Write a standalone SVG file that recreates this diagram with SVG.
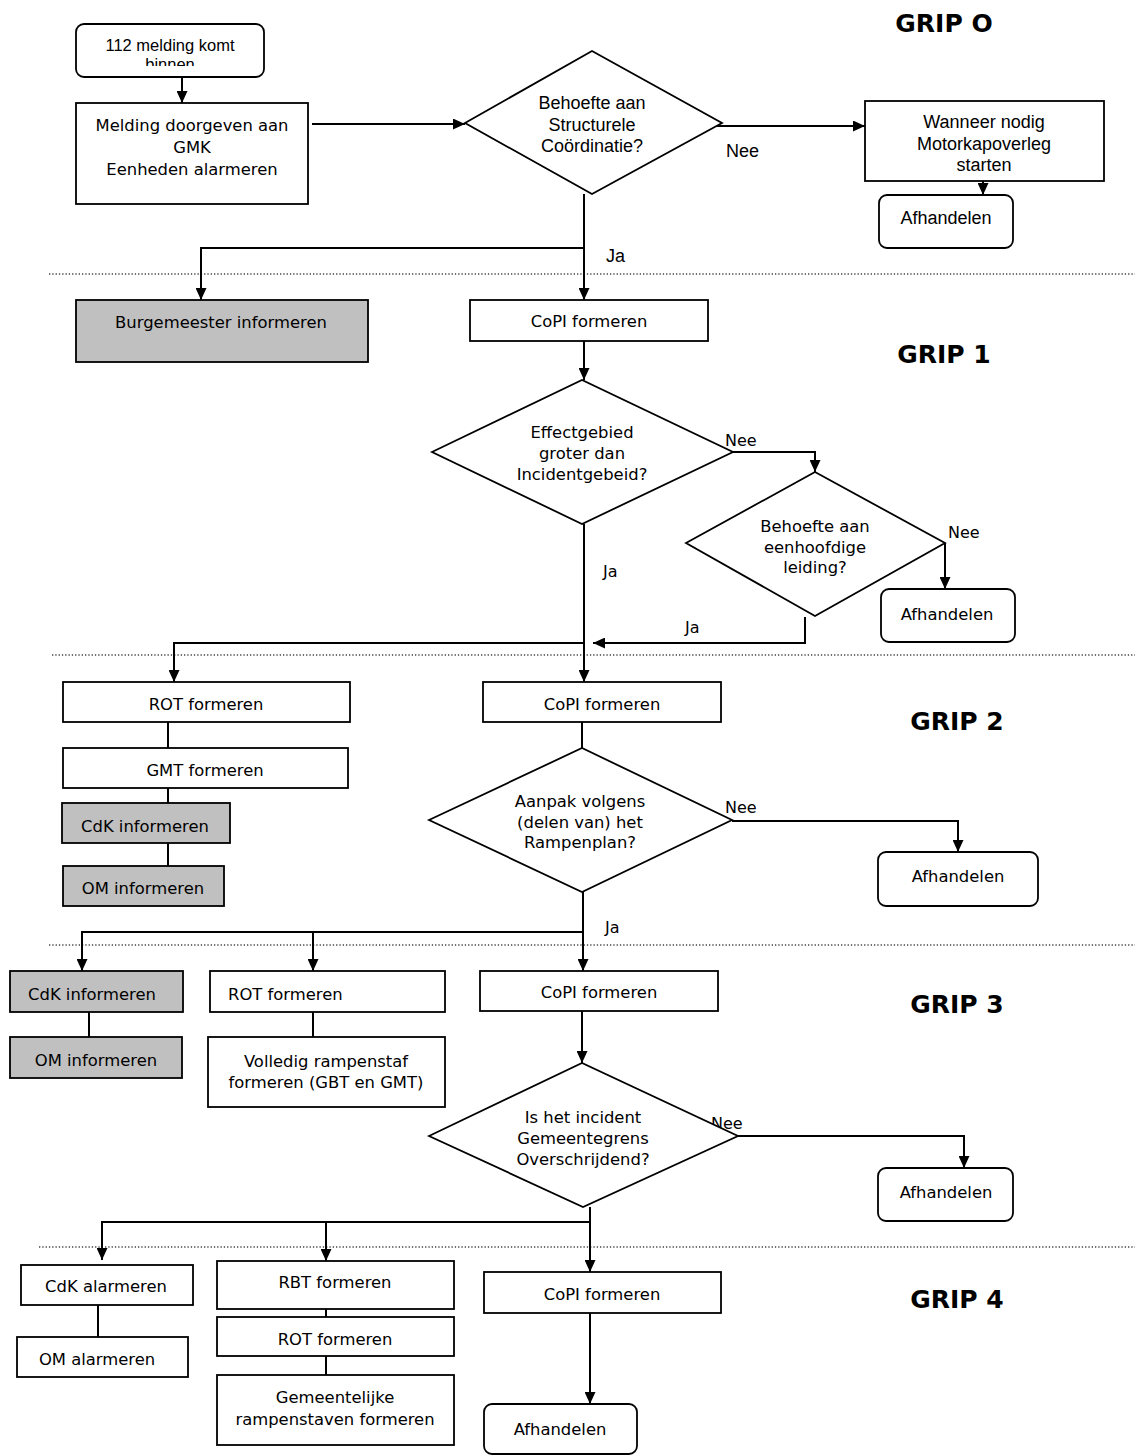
<svg xmlns="http://www.w3.org/2000/svg" width="1135" height="1455" viewBox="0 0 1135 1455">
<style>
.b{fill:#fff;stroke:#000;stroke-width:1.8}
.g{fill:#c0c0c0;stroke:#000;stroke-width:1.8}
.t{font-family:"DejaVu Sans",Verdana,sans-serif;font-size:16.4px;fill:#000;text-anchor:middle}
.a{font-family:"Liberation Sans",Arial,sans-serif;font-size:16.5px;fill:#000;text-anchor:middle}
.a2{font-family:"Liberation Sans",Arial,sans-serif;font-size:18px;fill:#000;text-anchor:middle}
.l{font-family:"DejaVu Sans",Verdana,sans-serif;font-size:16px;fill:#000}
.l2{font-family:"Liberation Sans",Arial,sans-serif;font-size:18px;fill:#000}
.grip{font-family:"DejaVu Sans",Verdana,sans-serif;font-size:25px;font-weight:bold;fill:#000;text-anchor:middle}
.c{fill:none;stroke:#000;stroke-width:2}
.ar{marker-end:url(#ah)}
.sep{stroke:#444;stroke-width:1.3;stroke-dasharray:1.3 2}
</style>
<defs>
<marker id="ah" markerUnits="userSpaceOnUse" markerWidth="12" markerHeight="11" refX="12" refY="5.5" orient="auto">
<path d="M0,0 L12,5.5 L0,11 z" fill="#000"/>
</marker>
<clipPath id="clip112"><rect x="76" y="24" width="188" height="42"/></clipPath>
</defs>
<rect width="1135" height="1455" fill="#fff"/>
<g id="separators">
<line class="sep" x1="49" y1="274" x2="1135" y2="274"/>
<line class="sep" x1="52" y1="655" x2="1135" y2="655"/>
<line class="sep" x1="49" y1="945" x2="1135" y2="945"/>
<line class="sep" x1="39" y1="1247" x2="1135" y2="1247"/>
</g>
<g id="grip-labels">
<text class="grip" x="944" y="32">GRIP O</text>
<text class="grip" x="944" y="363">GRIP 1</text>
<text class="grip" x="957" y="730">GRIP 2</text>
<text class="grip" x="957" y="1013">GRIP 3</text>
<text class="grip" x="957" y="1308">GRIP 4</text>
</g>
<g id="connectors">
<path class="c ar" d="M182,77 V103"/>
<path class="c ar" d="M312,124 H465"/>
<path class="c ar" d="M695,126 H865"/>
<path class="c ar" d="M983,168 V195"/>
<path class="c ar" d="M584,194 V300"/>
<path class="c ar" d="M584,248 H201 V300"/>
<path class="c ar" d="M584,341 V380"/>
<path class="c ar" d="M733,452 H815 V472"/>
<path class="c ar" d="M945,543 V589"/>
<path class="c ar" d="M805,617 V643 H593"/>
<path class="c ar" d="M584,524 V682"/>
<path class="c ar" d="M584,643 H174 V682"/>
<path class="c" d="M168,722 V748"/>
<path class="c" d="M168,788 V803"/>
<path class="c" d="M168,841 V866"/>
<path class="c" d="M582,722 V748"/>
<path class="c ar" d="M732,821 H958 V852"/>
<path class="c ar" d="M583,892 V971"/>
<path class="c ar" d="M583,932 H82 V971"/>
<path class="c ar" d="M313,932 V971"/>
<path class="c" d="M89,1012 V1037"/>
<path class="c" d="M313,1010 V1037"/>
<path class="c ar" d="M582,1011 V1063"/>
<path class="c ar" d="M738,1136 H964 V1168"/>
<path class="c ar" d="M590,1207 V1272"/>
<path class="c ar" d="M590,1222 H102 V1260"/>
<path class="c ar" d="M326,1222 V1261"/>
<path class="c" d="M98,1305 V1337"/>
<path class="c" d="M326,1309 V1317"/>
<path class="c" d="M326,1353 V1375"/>
<path class="c ar" d="M590,1313 V1404"/>
</g>
<g id="edge-labels">
<text class="l2" x="726" y="157">Nee</text>
<text class="l2" x="606" y="262">Ja</text>
<text class="l" x="725" y="446">Nee</text>
<text class="l" x="948" y="538">Nee</text>
<text class="l" x="603" y="577">Ja</text>
<text class="l" x="685" y="633">Ja</text>
<text class="l" x="725" y="813">Nee</text>
<text class="l" x="605" y="933">Ja</text>
<text class="l" x="711" y="1129">Nee</text>
</g>
<g id="n112">
<rect class="b" x="76" y="24" width="188" height="53" rx="8"/>
<g clip-path="url(#clip112)">
<text class="a" x="170" y="51">112 melding komt</text>
<text class="a" x="170" y="70">binnen</text>
</g>
</g>
<g id="nMelding">
<rect class="b" x="76" y="103" width="232" height="101"/>
<text class="t" x="192" y="131">Melding doorgeven aan</text>
<text class="t" x="192" y="153">GMK</text>
<text class="t" x="192" y="175">Eenheden alarmeren</text>
</g>
<g id="nDiamond1">
<polygon class="b" points="465,123 592,51 722,123 592,194"/>
<text class="a2" x="592" y="109">Behoefte aan</text>
<text class="a2" x="592" y="131">Structurele</text>
<text class="a2" x="592" y="152">Coördinatie?</text>
</g>
<g id="nWanneer">
<rect class="b" x="865" y="101" width="239" height="80"/>
<text class="a2" x="984" y="128">Wanneer nodig</text>
<text class="a2" x="984" y="150">Motorkapoverleg</text>
<text class="a2" x="984" y="171">starten</text>
</g>
<g id="nAfh1">
<rect class="b" x="879" y="195" width="134" height="53" rx="8"/>
<text class="a2" x="946" y="224">Afhandelen</text>
</g>
<g id="nBurg">
<rect class="g" x="76" y="300" width="292" height="62"/>
<text class="t" x="221" y="328">Burgemeester informeren</text>
</g>
<g id="nCoPI1">
<rect class="b" x="470" y="300" width="238" height="41"/>
<text class="t" x="589" y="327">CoPI formeren</text>
</g>
<g id="nDiamond2">
<polygon class="b" points="432,452 582,380 733,452 582,524"/>
<text class="t" x="582" y="438">Effectgebied</text>
<text class="t" x="582" y="459">groter dan</text>
<text class="t" x="582" y="480">Incidentgebeid?</text>
</g>
<g id="nDiamond3">
<polygon class="b" points="686,543 815,472 945,543 815,616"/>
<text class="t" x="815" y="532">Behoefte aan</text>
<text class="t" x="815" y="553">eenhoofdige</text>
<text class="t" x="815" y="573">leiding?</text>
</g>
<g id="nAfh2">
<rect class="b" x="881" y="589" width="134" height="53" rx="8"/>
<text class="t" x="947" y="620">Afhandelen</text>
</g>
<g id="nROT2">
<rect class="b" x="63" y="682" width="287" height="40"/>
<text class="t" x="206" y="710">ROT formeren</text>
</g>
<g id="nGMT2">
<rect class="b" x="63" y="748" width="285" height="40"/>
<text class="t" x="205" y="776">GMT formeren</text>
</g>
<g id="nCdK2">
<rect class="g" x="62" y="803" width="168" height="40"/>
<text class="t" x="145" y="832">CdK informeren</text>
</g>
<g id="nOM2">
<rect class="g" x="63" y="866" width="161" height="40"/>
<text class="t" x="143" y="894">OM informeren</text>
</g>
<g id="nCoPI2">
<rect class="b" x="483" y="682" width="238" height="40"/>
<text class="t" x="602" y="710">CoPI formeren</text>
</g>
<g id="nDiamond4">
<polygon class="b" points="429,820 582,748 732,820 582,892"/>
<text class="t" x="580" y="807">Aanpak volgens</text>
<text class="t" x="580" y="828">(delen van) het</text>
<text class="t" x="580" y="848">Rampenplan?</text>
</g>
<g id="nAfh3">
<rect class="b" x="878" y="852" width="160" height="54" rx="8"/>
<text class="t" x="958" y="882">Afhandelen</text>
</g>
<g id="nCdK3">
<rect class="g" x="10" y="971" width="173" height="41"/>
<text class="t" x="92" y="1000">CdK informeren</text>
</g>
<g id="nOM3">
<rect class="g" x="10" y="1037" width="172" height="41"/>
<text class="t" x="96" y="1066">OM informeren</text>
</g>
<g id="nROT3">
<rect class="b" x="210" y="971" width="235" height="41"/>
<text class="t" x="228" y="1000" style="text-anchor:start">ROT formeren</text>
</g>
<g id="nVolledig">
<rect class="b" x="208" y="1037" width="237" height="70"/>
<text class="t" x="326" y="1067">Volledig rampenstaf</text>
<text class="t" x="326" y="1088">formeren (GBT en GMT)</text>
</g>
<g id="nCoPI3">
<rect class="b" x="480" y="971" width="238" height="40"/>
<text class="t" x="599" y="998">CoPI formeren</text>
</g>
<g id="nDiamond5">
<polygon class="b" points="429,1136 582,1063 738,1136 583,1207"/>
<text class="t" x="583" y="1123">Is het incident</text>
<text class="t" x="583" y="1144">Gemeentegrens</text>
<text class="t" x="583" y="1165">Overschrijdend?</text>
</g>
<g id="nAfh4">
<rect class="b" x="878" y="1168" width="135" height="53" rx="8"/>
<text class="t" x="946" y="1198">Afhandelen</text>
</g>
<g id="nCdKal">
<rect class="b" x="21" y="1265" width="172" height="40"/>
<text class="t" x="106" y="1292">CdK alarmeren</text>
</g>
<g id="nOMal">
<rect class="b" x="17" y="1337" width="171" height="40"/>
<text class="t" x="97" y="1365">OM alarmeren</text>
</g>
<g id="nRBT">
<rect class="b" x="217" y="1261" width="237" height="48"/>
<text class="t" x="335" y="1288">RBT formeren</text>
</g>
<g id="nROT4">
<rect class="b" x="217" y="1317" width="237" height="39"/>
<text class="t" x="335" y="1345">ROT formeren</text>
</g>
<g id="nGem">
<rect class="b" x="217" y="1375" width="237" height="70"/>
<text class="t" x="335" y="1403">Gemeentelijke</text>
<text class="t" x="335" y="1425">rampenstaven formeren</text>
</g>
<g id="nCoPI4">
<rect class="b" x="484" y="1272" width="237" height="41"/>
<text class="t" x="602" y="1300">CoPI formeren</text>
</g>
<g id="nAfh5">
<rect class="b" x="484" y="1404" width="153" height="50" rx="8"/>
<text class="t" x="560" y="1435">Afhandelen</text>
</g>
</svg>
